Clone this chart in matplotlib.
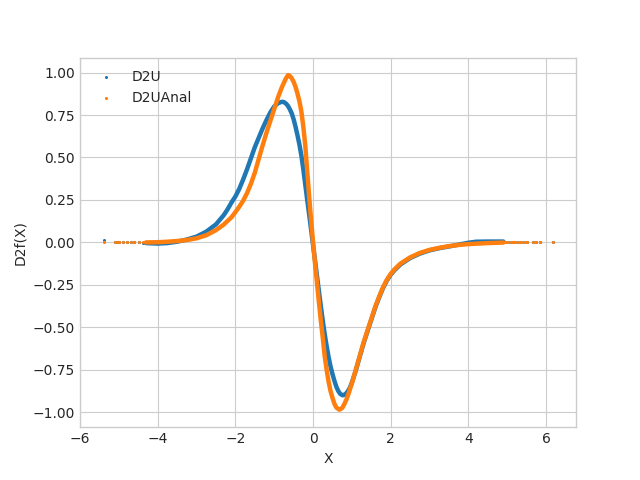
import matplotlib
matplotlib.use("Agg")
import matplotlib.pyplot as plt

plt.style.use("seaborn-v0_8-whitegrid")
plt.rcParams["font.family"] = ["DejaVu Sans"]

# Dense part of the curves
x_d2u = [-4.3, -4.0, -3.75, -3.5, -3.25, -3.0, -2.75, -2.5, -2.3, -2.2, -2.1, -2.0,
         -1.9, -1.8, -1.7, -1.6, -1.5, -1.4, -1.3, -1.2, -1.1, -1.0, -0.9, -0.8,
         -0.75, -0.7, -0.65, -0.6, -0.55, -0.5, -0.45, -0.4, -0.35, -0.3, -0.25,
         -0.2, -0.15, -0.1, -0.05, 0.0, 0.05, 0.1, 0.15, 0.2, 0.25, 0.3, 0.35, 0.4,
         0.45, 0.5, 0.55, 0.6, 0.65, 0.7, 0.76, 0.8, 0.85, 0.9, 0.95, 1.0, 1.1, 1.2,
         1.3, 1.4, 1.5, 1.6, 1.7, 1.8, 1.9, 2.0, 2.1, 2.25, 2.5, 2.75, 3.0, 3.25,
         3.5, 3.75, 4.0, 4.2, 4.5, 4.9]
y_d2u = [-0.004, -0.007, -0.004, 0.004, 0.017, 0.034, 0.063, 0.106, 0.16, 0.195, 0.235, 0.27,
         0.315, 0.37, 0.43, 0.495, 0.56, 0.615, 0.67, 0.72, 0.765, 0.80, 0.82, 0.828,
         0.826, 0.818, 0.805, 0.785, 0.76, 0.725, 0.68, 0.63, 0.575, 0.51, 0.43,
         0.34, 0.25, 0.165, 0.075, -0.015, -0.105, -0.195, -0.285, -0.375, -0.46, -0.54, -0.61, -0.675,
         -0.73, -0.775, -0.815, -0.85, -0.875, -0.892, -0.90, -0.898, -0.89, -0.875, -0.855, -0.825, -0.755, -0.675,
         -0.595, -0.525, -0.455, -0.385, -0.325, -0.27, -0.225, -0.19, -0.163, -0.13, -0.092, -0.066, -0.047, -0.034,
         -0.024, -0.013, -0.002, 0.004, 0.005, 0.005]

x_anal = [-4.3, -4.0, -3.75, -3.5, -3.25, -3.0, -2.75, -2.5, -2.3, -2.1, -2.0, -1.9,
          -1.8, -1.7, -1.6, -1.5, -1.4, -1.3, -1.2, -1.1, -1.0, -0.9, -0.8, -0.7,
          -0.643, -0.6, -0.55, -0.5, -0.45, -0.4, -0.35, -0.3, -0.25, -0.2, -0.15,
          -0.1, -0.05, 0.0, 0.05, 0.1, 0.15, 0.2, 0.25, 0.3, 0.35, 0.4, 0.45, 0.5,
          0.55, 0.6, 0.676, 0.75, 0.8, 0.85, 0.9, 0.95, 1.0, 1.1, 1.2, 1.3, 1.4, 1.5,
          1.6, 1.7, 1.8, 1.9, 2.0, 2.1, 2.25, 2.5, 2.75, 3.0, 3.25, 3.5, 3.75, 4.0,
          4.5, 4.9]
y_anal = [0.0, 0.001, 0.004, 0.008, 0.014, 0.024, 0.042, 0.072, 0.105, 0.148, 0.178, 0.21,
          0.245, 0.29, 0.345, 0.41, 0.49, 0.57, 0.645, 0.715, 0.785, 0.855, 0.915, 0.965,
          0.985, 0.98, 0.967, 0.945, 0.915, 0.875, 0.83, 0.77, 0.68, 0.57, 0.42,
          0.27, 0.13, 0.0, -0.12, -0.235, -0.35, -0.46, -0.56, -0.67, -0.75, -0.82, -0.875, -0.915,
          -0.95, -0.972, -0.985, -0.975, -0.955, -0.93, -0.9, -0.865, -0.83, -0.75, -0.67, -0.59, -0.52, -0.45,
          -0.38, -0.32, -0.265, -0.22, -0.185, -0.158, -0.125, -0.088, -0.062, -0.044, -0.032, -0.022, -0.015, -0.01,
          -0.004, -0.001]

# Sparse tail points
x_tail = [-5.39, -5.11, -5.05, -5.01, -4.99, -4.89, -4.79, -4.69, -4.60, -4.49, -4.39,
          4.98, 5.05, 5.11, 5.17, 5.24, 5.32, 5.41, 5.48, 5.52, 5.66, 5.75, 5.85, 6.18]
y_d2u_tail = [0.012, 0.004, 0.003, 0.004, 0.003, 0.002, 0.002, 0.001, 0.0, 0.0, -0.002,
              0.005, 0.005, 0.005, 0.005, 0.004, 0.004, 0.004, 0.004, 0.004, 0.003, 0.003, 0.003, 0.003]
y_anal_tail = [0.0, 0.0, 0.0, 0.0, 0.0, 0.0, 0.0, 0.0, 0.0, 0.0, 0.0,
               0.0, 0.0, 0.0, 0.0, 0.0, 0.0, 0.0, 0.0, 0.0, 0.0, 0.0, 0.0, 0.0]

blue = "#1f77b4"
orange = "#ff7f0e"

fig, ax = plt.subplots(figsize=(6.4, 4.8), dpi=100)

ax.plot(x_d2u, y_d2u, color=blue, lw=3.2, solid_capstyle="round",
        solid_joinstyle="round", zorder=2)
ax.scatter(x_tail, y_d2u_tail, s=1.5, color=blue, label="D2U", zorder=2)
ax.plot(x_anal, y_anal, color=orange, lw=3.2, solid_capstyle="round",
        solid_joinstyle="round", zorder=3)
ax.scatter(x_tail, y_anal_tail, s=1.5, color=orange, label="D2UAnal", zorder=3)

ax.set_xlim(-5.98, 6.77)
ax.set_ylim(-1.088, 1.088)
ax.set_xticks([-6, -4, -2, 0, 2, 4, 6])
ax.set_yticks([-1.0, -0.75, -0.5, -0.25, 0.0, 0.25, 0.5, 0.75, 1.0])
ax.set_xlabel("X")
ax.set_ylabel("D2f(X)")
ax.legend(loc="upper left")

fig.savefig("out.png", dpi=100)
